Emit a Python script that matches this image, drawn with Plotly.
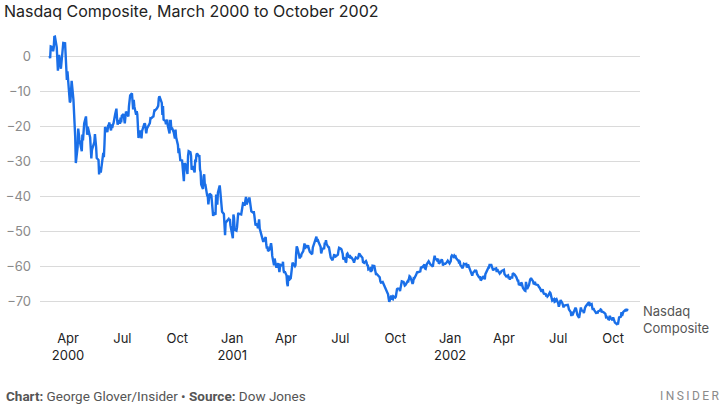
import plotly.graph_objects as go

# Percent change of the Nasdaq Composite since 1 March 2000
dates_2000 = [
    "2000-03-01", "2000-03-02", "2000-03-03", "2000-03-06", "2000-03-07", "2000-03-08", "2000-03-09", "2000-03-10",
    "2000-03-13", "2000-03-14", "2000-03-15", "2000-03-16", "2000-03-17", "2000-03-20", "2000-03-21", "2000-03-22",
    "2000-03-23", "2000-03-24", "2000-03-27", "2000-03-28", "2000-03-29", "2000-03-30", "2000-03-31", "2000-04-03",
    "2000-04-04", "2000-04-05", "2000-04-06", "2000-04-07", "2000-04-10", "2000-04-11", "2000-04-12", "2000-04-13",
    "2000-04-14", "2000-04-17", "2000-04-18", "2000-04-19", "2000-04-20", "2000-04-24", "2000-04-25", "2000-04-26",
    "2000-04-27", "2000-04-28", "2000-05-01", "2000-05-02", "2000-05-03", "2000-05-04", "2000-05-08", "2000-05-09",
    "2000-05-10", "2000-05-11", "2000-05-12", "2000-05-15", "2000-05-16", "2000-05-17", "2000-05-18", "2000-05-19",
    "2000-05-22", "2000-05-23", "2000-05-24", "2000-05-25", "2000-05-26", "2000-05-30", "2000-05-31", "2000-06-01",
    "2000-06-02", "2000-06-05", "2000-06-06", "2000-06-07", "2000-06-08", "2000-06-09", "2000-06-12", "2000-06-13",
    "2000-06-14", "2000-06-15", "2000-06-16", "2000-06-19", "2000-06-20", "2000-06-21", "2000-06-22", "2000-06-23",
    "2000-06-26", "2000-06-27", "2000-06-28", "2000-06-29", "2000-06-30", "2000-07-03", "2000-07-05", "2000-07-06",
    "2000-07-07", "2000-07-10", "2000-07-11", "2000-07-12", "2000-07-13", "2000-07-14", "2000-07-17", "2000-07-18",
    "2000-07-19", "2000-07-20", "2000-07-21", "2000-07-24", "2000-07-25", "2000-07-26", "2000-07-27", "2000-07-28",
    "2000-07-31", "2000-08-01", "2000-08-02", "2000-08-03", "2000-08-04", "2000-08-07", "2000-08-08", "2000-08-09",
    "2000-08-10", "2000-08-11", "2000-08-14", "2000-08-15", "2000-08-16", "2000-08-17", "2000-08-18", "2000-08-21",
    "2000-08-22", "2000-08-23", "2000-08-24", "2000-08-25", "2000-08-28", "2000-08-29", "2000-08-30", "2000-08-31",
    "2000-09-01", "2000-09-05", "2000-09-06", "2000-09-07", "2000-09-08", "2000-09-11", "2000-09-12", "2000-09-13",
    "2000-09-14", "2000-09-15", "2000-09-18", "2000-09-19", "2000-09-20", "2000-09-21", "2000-09-22", "2000-09-25",
    "2000-09-26", "2000-09-27", "2000-09-28", "2000-09-29", "2000-10-02", "2000-10-03", "2000-10-04", "2000-10-05",
    "2000-10-06", "2000-10-09", "2000-10-10", "2000-10-11", "2000-10-12", "2000-10-13", "2000-10-16", "2000-10-17",
    "2000-10-18", "2000-10-19", "2000-10-20", "2000-10-23", "2000-10-24", "2000-10-25", "2000-10-26", "2000-10-27",
    "2000-10-30", "2000-10-31", "2000-11-01", "2000-11-02", "2000-11-03", "2000-11-06", "2000-11-07", "2000-11-08",
    "2000-11-09", "2000-11-10", "2000-11-13", "2000-11-14", "2000-11-15", "2000-11-16", "2000-11-17", "2000-11-20",
    "2000-11-21", "2000-11-22", "2000-11-24", "2000-11-27", "2000-11-28", "2000-11-29", "2000-11-30", "2000-12-01",
    "2000-12-04", "2000-12-05", "2000-12-06", "2000-12-07", "2000-12-08", "2000-12-11", "2000-12-12", "2000-12-13",
    "2000-12-14", "2000-12-15", "2000-12-18", "2000-12-19", "2000-12-20", "2000-12-21", "2000-12-22", "2000-12-26",
    "2000-12-27", "2000-12-28", "2000-12-29",
]
pct_2000 = [
    0.00, -0.63, 2.72, 2.51, 1.32, 2.38, 5.48, 5.54,
    2.57, -1.61, -4.22, -1.40, 0.29, -3.64, -1.53, 1.67,
    3.26, 3.74, 3.64, 1.02, -2.93, -6.84, -4.41, -11.73,
    -13.29, -12.86, -10.81, -7.07, -12.46, -15.74, -21.22, -23.16,
    -30.58, -26.02, -20.72, -22.53, -23.85, -27.22, -22.43, -24.12,
    -21.11, -19.29, -17.27, -20.88, -22.51, -20.21, -23.29, -26.23,
    -29.24, -26.86, -26.23, -24.58, -22.30, -23.83, -26.05, -29.14,
    -29.68, -33.86, -31.65, -33.01, -33.01, -27.70, -28.91, -25.13,
    -20.30, -21.49, -21.47, -20.03, -20.05, -19.00, -21.26, -19.50,
    -20.61, -19.63, -19.32, -16.60, -16.10, -15.05, -17.73, -19.63,
    -18.23, -19.36, -17.64, -18.96, -17.10, -16.58, -19.25, -17.23,
    -15.89, -16.79, -17.29, -14.30, -12.73, -11.25, -10.64, -12.67,
    -15.24, -12.54, -14.40, -16.79, -15.76, -16.66, -19.69, -23.43,
    -21.26, -23.52, -23.52, -21.43, -20.82, -19.25, -19.46, -21.26,
    -22.09, -20.80, -19.50, -19.52, -19.17, -17.81, -17.85, -17.37,
    -17.27, -16.16, -15.28, -15.51, -14.93, -14.67, -14.24, -12.08,
    -11.50, -13.40, -16.83, -14.32, -18.19, -18.56, -19.52, -18.62,
    -18.19, -19.84, -22.12, -18.54, -18.54, -21.03, -20.51, -21.80,
    -22.89, -23.56, -21.03, -23.22, -25.42, -27.76, -26.36, -27.40,
    -29.74, -29.85, -32.25, -33.78, -35.74, -30.67, -31.23, -32.82,
    -33.70, -28.53, -27.20, -27.49, -28.53, -32.51, -31.61, -31.48,
    -33.30, -29.56, -30.31, -28.30, -27.86, -28.58, -28.60, -32.44,
    -33.09, -36.71, -37.98, -34.39, -33.82, -36.62, -36.71, -39.88,
    -39.99, -42.41, -39.30, -39.80, -42.85, -43.44, -45.69, -44.71,
    -45.32, -39.59, -41.53, -42.47, -39.03, -36.98, -38.71, -40.99,
    -42.96, -44.54, -45.15, -47.51, -51.23, -47.37, -47.39, -46.55,
    -46.93, -46.53, -48.35,
]

dates_2001 = [
    "2001-01-02", "2001-01-03", "2001-01-04", "2001-01-05", "2001-01-08", "2001-01-09", "2001-01-10", "2001-01-11",
    "2001-01-12", "2001-01-16", "2001-01-17", "2001-01-18", "2001-01-19", "2001-01-22", "2001-01-23", "2001-01-24",
    "2001-01-25", "2001-01-26", "2001-01-29", "2001-01-30", "2001-01-31", "2001-02-01", "2001-02-02", "2001-02-05",
    "2001-02-06", "2001-02-07", "2001-02-08", "2001-02-09", "2001-02-12", "2001-02-13", "2001-02-14", "2001-02-15",
    "2001-02-16", "2001-02-20", "2001-02-21", "2001-02-22", "2001-02-23", "2001-02-26", "2001-02-27", "2001-02-28",
    "2001-03-01", "2001-03-02", "2001-03-05", "2001-03-06", "2001-03-07", "2001-03-08", "2001-03-09", "2001-03-12",
    "2001-03-13", "2001-03-14", "2001-03-15", "2001-03-16", "2001-03-19", "2001-03-20", "2001-03-21", "2001-03-22",
    "2001-03-23", "2001-03-26", "2001-03-27", "2001-03-28", "2001-03-29", "2001-03-30", "2001-04-02", "2001-04-03",
    "2001-04-04", "2001-04-05", "2001-04-06", "2001-04-09", "2001-04-10", "2001-04-11", "2001-04-12", "2001-04-16",
    "2001-04-17", "2001-04-18", "2001-04-19", "2001-04-20", "2001-04-23", "2001-04-24", "2001-04-25", "2001-04-26",
    "2001-04-27", "2001-04-30", "2001-05-01", "2001-05-02", "2001-05-03", "2001-05-04", "2001-05-07", "2001-05-08",
    "2001-05-09", "2001-05-10", "2001-05-11", "2001-05-14", "2001-05-15", "2001-05-16", "2001-05-17", "2001-05-18",
    "2001-05-21", "2001-05-22", "2001-05-23", "2001-05-24", "2001-05-25", "2001-05-29", "2001-05-30", "2001-05-31",
    "2001-06-01", "2001-06-04", "2001-06-05", "2001-06-06", "2001-06-07", "2001-06-08", "2001-06-11", "2001-06-12",
    "2001-06-13", "2001-06-14", "2001-06-15", "2001-06-18", "2001-06-19", "2001-06-20", "2001-06-21", "2001-06-22",
    "2001-06-25", "2001-06-26", "2001-06-27", "2001-06-28", "2001-06-29", "2001-07-02", "2001-07-03", "2001-07-05",
    "2001-07-06", "2001-07-09", "2001-07-10", "2001-07-11", "2001-07-12", "2001-07-13", "2001-07-16", "2001-07-17",
    "2001-07-18", "2001-07-19", "2001-07-20", "2001-07-23", "2001-07-24", "2001-07-25", "2001-07-26", "2001-07-27",
    "2001-07-30", "2001-07-31", "2001-08-01", "2001-08-02", "2001-08-03", "2001-08-06", "2001-08-07", "2001-08-08",
    "2001-08-09", "2001-08-10", "2001-08-13", "2001-08-14", "2001-08-15", "2001-08-16", "2001-08-17", "2001-08-20",
    "2001-08-21", "2001-08-22", "2001-08-23", "2001-08-24", "2001-08-27", "2001-08-28", "2001-08-29", "2001-08-30",
    "2001-08-31", "2001-09-04", "2001-09-05", "2001-09-06", "2001-09-07", "2001-09-10", "2001-09-17", "2001-09-18",
    "2001-09-19", "2001-09-20", "2001-09-21", "2001-09-24", "2001-09-25", "2001-09-26", "2001-09-27", "2001-09-28",
    "2001-10-01", "2001-10-02", "2001-10-03", "2001-10-04", "2001-10-05", "2001-10-08", "2001-10-09", "2001-10-10",
    "2001-10-11", "2001-10-12", "2001-10-15", "2001-10-16", "2001-10-17", "2001-10-18", "2001-10-19", "2001-10-22",
    "2001-10-23", "2001-10-24", "2001-10-25", "2001-10-26", "2001-10-29", "2001-10-30", "2001-10-31", "2001-11-01",
    "2001-11-02", "2001-11-05", "2001-11-06", "2001-11-07", "2001-11-08", "2001-11-09", "2001-11-12", "2001-11-13",
    "2001-11-14", "2001-11-15", "2001-11-16", "2001-11-19", "2001-11-20", "2001-11-21", "2001-11-23", "2001-11-26",
    "2001-11-27", "2001-11-28", "2001-11-29", "2001-11-30", "2001-12-03", "2001-12-04", "2001-12-05", "2001-12-06",
    "2001-12-07", "2001-12-10", "2001-12-11", "2001-12-12", "2001-12-13", "2001-12-14", "2001-12-17", "2001-12-18",
    "2001-12-19", "2001-12-20", "2001-12-21", "2001-12-24", "2001-12-26", "2001-12-27", "2001-12-28", "2001-12-31",
]
pct_2001 = [
    -52.09, -45.30, -46.34, -49.67, -49.92, -48.98, -47.24, -44.82,
    -45.09, -45.26, -43.94, -42.14, -42.10, -42.37, -40.64, -40.24,
    -42.41, -41.87, -40.68, -40.68, -42.04, -41.85, -44.38, -44.75,
    -44.32, -45.51, -46.45, -48.37, -47.97, -49.25, -47.93, -46.66,
    -49.31, -51.53, -52.59, -53.09, -52.72, -51.76, -53.87, -55.02,
    -54.37, -55.73, -55.21, -53.91, -53.51, -54.68, -57.11, -59.78,
    -57.88, -58.76, -59.45, -60.47, -59.22, -60.35, -61.73, -60.35,
    -59.70, -59.89, -58.78, -61.25, -61.96, -61.54, -62.73, -65.03,
    -65.76, -62.67, -64.05, -63.50, -61.27, -60.33, -59.01, -60.08,
    -59.78, -56.52, -54.39, -54.79, -56.96, -57.84, -56.94, -57.48,
    -56.63, -55.77, -54.66, -53.57, -55.14, -54.18, -54.56, -54.06,
    -54.91, -55.52, -55.96, -56.50, -56.42, -54.70, -54.16, -54.04,
    -51.80, -51.63, -53.09, -52.30, -52.93, -54.54, -56.42, -55.90,
    -55.06, -54.95, -53.32, -53.66, -52.65, -53.70, -54.64, -54.66,
    -55.62, -57.27, -57.61, -58.36, -57.55, -56.96, -56.63, -57.48,
    -57.15, -56.86, -56.73, -55.58, -54.83, -55.10, -55.25, -56.50,
    -58.11, -57.63, -58.97, -58.78, -56.63, -56.42, -57.57, -56.81,
    -57.84, -57.48, -57.59, -58.44, -59.03, -58.34, -57.73, -57.57,
    -57.84, -57.63, -56.77, -56.38, -56.81, -57.48, -57.61, -58.90,
    -58.97, -59.11, -58.57, -58.95, -59.89, -59.64, -60.97, -60.68,
    -61.73, -61.12, -61.48, -59.93, -60.03, -61.04, -61.48, -62.56,
    -62.27, -63.00, -63.23, -64.34, -64.72, -64.57, -66.97, -67.50,
    -68.08, -69.27, -70.26, -68.65, -68.63, -69.40, -69.48, -68.67,
    -69.04, -68.79, -66.85, -66.62, -66.45, -66.45, -67.18, -66.01,
    -64.44, -64.40, -64.55, -65.59, -65.59, -65.47, -65.07, -64.30,
    -64.36, -63.82, -62.90, -63.04, -64.47, -65.13, -64.67, -63.48,
    -63.52, -62.52, -61.64, -61.60, -61.81, -61.79, -61.54, -60.45,
    -60.22, -60.28, -60.33, -59.55, -60.70, -60.81, -59.43, -58.65,
    -58.93, -59.55, -59.59, -59.64, -60.20, -58.97, -57.21, -57.07,
    -57.76, -58.36, -58.15, -57.96, -59.32, -59.18, -58.44, -58.11,
    -58.55, -59.89, -59.32, -59.37, -59.03, -58.70, -58.47, -59.24,
]

dates_2002 = [
    "2002-01-02", "2002-01-03", "2002-01-04", "2002-01-07", "2002-01-08", "2002-01-09", "2002-01-10", "2002-01-11",
    "2002-01-14", "2002-01-15", "2002-01-16", "2002-01-17", "2002-01-18", "2002-01-22", "2002-01-23", "2002-01-24",
    "2002-01-25", "2002-01-28", "2002-01-29", "2002-01-30", "2002-01-31", "2002-02-01", "2002-02-04", "2002-02-05",
    "2002-02-06", "2002-02-07", "2002-02-08", "2002-02-11", "2002-02-12", "2002-02-13", "2002-02-14", "2002-02-15",
    "2002-02-19", "2002-02-20", "2002-02-21", "2002-02-22", "2002-02-25", "2002-02-26", "2002-02-27", "2002-02-28",
    "2002-03-01", "2002-03-04", "2002-03-05", "2002-03-06", "2002-03-07", "2002-03-08", "2002-03-11", "2002-03-12",
    "2002-03-13", "2002-03-14", "2002-03-15", "2002-03-18", "2002-03-19", "2002-03-20", "2002-03-21", "2002-03-22",
    "2002-03-25", "2002-03-26", "2002-03-27", "2002-03-28", "2002-04-01", "2002-04-02", "2002-04-03", "2002-04-04",
    "2002-04-05", "2002-04-08", "2002-04-09", "2002-04-10", "2002-04-11", "2002-04-12", "2002-04-15", "2002-04-16",
    "2002-04-17", "2002-04-18", "2002-04-19", "2002-04-22", "2002-04-23", "2002-04-24", "2002-04-25", "2002-04-26",
    "2002-04-29", "2002-04-30", "2002-05-01", "2002-05-02", "2002-05-03", "2002-05-06", "2002-05-07", "2002-05-08",
    "2002-05-09", "2002-05-10", "2002-05-13", "2002-05-14", "2002-05-15", "2002-05-16", "2002-05-17", "2002-05-20",
    "2002-05-21", "2002-05-22", "2002-05-23", "2002-05-24", "2002-05-28", "2002-05-29", "2002-05-30", "2002-05-31",
    "2002-06-03", "2002-06-04", "2002-06-05", "2002-06-06", "2002-06-07", "2002-06-10", "2002-06-11", "2002-06-12",
    "2002-06-13", "2002-06-14", "2002-06-17", "2002-06-18", "2002-06-19", "2002-06-20", "2002-06-21", "2002-06-24",
    "2002-06-25", "2002-06-26", "2002-06-27", "2002-06-28", "2002-07-01", "2002-07-02", "2002-07-03", "2002-07-05",
    "2002-07-08", "2002-07-09", "2002-07-10", "2002-07-11", "2002-07-12", "2002-07-15", "2002-07-16", "2002-07-17",
    "2002-07-18", "2002-07-19", "2002-07-22", "2002-07-23", "2002-07-24", "2002-07-25", "2002-07-26", "2002-07-29",
    "2002-07-30", "2002-07-31", "2002-08-01", "2002-08-02", "2002-08-05", "2002-08-06", "2002-08-07", "2002-08-08",
    "2002-08-09", "2002-08-12", "2002-08-13", "2002-08-14", "2002-08-15", "2002-08-16", "2002-08-19", "2002-08-20",
    "2002-08-21", "2002-08-22", "2002-08-23", "2002-08-26", "2002-08-27", "2002-08-28", "2002-08-29", "2002-08-30",
    "2002-09-03", "2002-09-04", "2002-09-05", "2002-09-06", "2002-09-09", "2002-09-10", "2002-09-11", "2002-09-12",
    "2002-09-13", "2002-09-16", "2002-09-17", "2002-09-18", "2002-09-19", "2002-09-20", "2002-09-23", "2002-09-24",
    "2002-09-25", "2002-09-26", "2002-09-27", "2002-09-30", "2002-10-01", "2002-10-02", "2002-10-03", "2002-10-04",
    "2002-10-07", "2002-10-08", "2002-10-09", "2002-10-10", "2002-10-11", "2002-10-14", "2002-10-15", "2002-10-16",
    "2002-10-17", "2002-10-18", "2002-10-21", "2002-10-22", "2002-10-23", "2002-10-24", "2002-10-25",
]
pct_2002 = [
    -58.61, -57.25, -56.96, -57.42, -57.04, -57.25, -57.21, -57.74,
    -58.40, -58.19, -59.34, -58.51, -59.66, -60.66, -59.80, -59.39,
    -59.49, -59.39, -60.43, -60.01, -59.57, -60.05, -61.23, -61.54,
    -62.10, -62.75, -62.00, -61.39, -61.64, -61.14, -61.48, -62.27,
    -63.42, -62.90, -64.11, -63.96, -63.09, -63.06, -63.40, -63.82,
    -62.33, -61.14, -60.99, -60.47, -60.68, -59.68, -59.68, -60.35,
    -61.08, -61.23, -60.95, -60.77, -60.70, -61.71, -60.95, -61.31,
    -62.12, -61.85, -61.83, -61.43, -61.08, -62.29, -62.69, -62.58,
    -63.00, -62.69, -63.59, -63.06, -63.92, -63.29, -63.29, -62.02,
    -62.17, -62.33, -62.46, -63.21, -63.84, -64.19, -64.19, -65.22,
    -65.39, -64.72, -64.95, -65.64, -66.28, -67.02, -67.10, -64.53,
    -65.43, -66.56, -65.47, -64.07, -63.84, -63.61, -63.61, -64.42,
    -65.20, -65.03, -64.53, -65.26, -65.45, -66.03, -66.05, -66.22,
    -67.33, -67.02, -66.66, -67.52, -67.91, -68.02, -68.71, -68.25,
    -68.71, -68.54, -67.54, -67.75, -68.71, -69.38, -69.88, -69.48,
    -70.23, -70.13, -69.50, -69.42, -70.65, -71.63, -71.15, -69.73,
    -70.63, -71.11, -71.86, -71.28, -71.28, -71.09, -71.26, -71.11,
    -71.63, -72.41, -73.18, -74.31, -73.04, -74.08, -73.62, -72.09,
    -71.91, -72.24, -73.22, -73.93, -74.79, -73.24, -72.70, -71.86,
    -72.70, -72.83, -73.45, -72.12, -71.89, -71.55, -70.86, -71.22,
    -70.55, -70.28, -71.15, -70.90, -71.84, -72.53, -72.09, -72.51,
    -73.60, -72.99, -73.58, -72.93, -72.72, -72.41, -72.51, -73.27,
    -73.01, -73.35, -73.66, -73.68, -74.58, -74.46, -75.23, -75.29,
    -74.46, -74.46, -74.94, -75.50, -74.65, -75.17, -75.65, -76.19,
    -76.61, -76.40, -76.71, -75.69, -74.71, -74.50, -73.20, -74.23,
    -73.41, -73.10, -72.64, -72.99, -72.41, -72.87, -72.18,
]

tick_dates = ["2000-04-01", "2000-07-01", "2000-10-01", "2001-01-01", "2001-04-01", "2001-07-01",
              "2001-10-01", "2002-01-01", "2002-04-01", "2002-07-01", "2002-10-01"]
tick_labels = ["Apr<br>2000", "Jul", "Oct", "Jan<br>2001", "Apr", "Jul",
               "Oct", "Jan<br>2002", "Apr", "Jul", "Oct"]
y_ticks = [0, -10, -20, -30, -40, -50, -60, -70]

dates = dates_2000 + dates_2001 + dates_2002
pct = pct_2000 + pct_2001 + pct_2002

FONT = "Inter"

fig = go.Figure()
fig.add_trace(go.Scatter(
    x=dates, y=pct, mode="lines",
    line=dict(color="#1a6fe8", width=2.4),
    hoverinfo="skip", showlegend=False,
))

fig.update_layout(
    width=726, height=408,
    margin=dict(l=40, r=86, t=35, b=79, autoexpand=False),
    plot_bgcolor="white", paper_bgcolor="white",
    font=dict(family=FONT, size=13, color="#222"),
    showlegend=False,
    title=dict(
        text="Nasdaq Composite, March 2000 to October 2002",
        x=4 / 726, xref="container", xanchor="left",
        y=1 - 11 / 408, yref="container", yanchor="middle",
        font=dict(family=FONT, size=16, color="#222"),
    ),
    xaxis=dict(
        type="date",
        range=["2000-02-14", "2002-11-15"],
        tickvals=tick_dates, ticktext=tick_labels,
        showgrid=False, zeroline=False, showline=False, ticks="",
        tickfont=dict(family=FONT, size=13, color="#222"),
    ),
    yaxis=dict(
        range=[-78, 6],
        tickvals=y_ticks,
        showgrid=True, gridcolor="#dadada", gridwidth=1,
        zeroline=False, showline=False, ticks="",
        ticklabelstandoff=8,
        tickfont=dict(family=FONT, size=13, color="#8a8a8a"),
    ),
)

fig.add_annotation(
    x=1, xref="paper", xshift=1, xanchor="left",
    y=-75.3, yref="y", yanchor="middle",
    text="Nasdaq<br>Composite", showarrow=False, align="left",
    font=dict(family=FONT, size=13, color="#555"),
)
fig.add_annotation(
    x=(4 - 40) / 600, xref="paper", xanchor="left",
    y=(329 - 396) / 294, yref="paper", yanchor="middle",
    text="<b>Chart:</b> George Glover/Insider • <b>Source:</b> Dow Jones",
    showarrow=False, align="left",
    font=dict(family="Roboto", size=13.5, color="#555"),
)
fig.add_annotation(
    x=(722 - 40) / 600, xref="paper", xanchor="right",
    y=(329 - 396) / 294, yref="paper", yanchor="middle",
    text="I\u2009N\u2009S\u2009I\u2009D\u2009E\u2009R",
    showarrow=False,
    font=dict(family="Roboto", size=12, color="#8a8a8a"),
)

fig.write_html(
    "out.html",
    config={"displayModeBar": False, "staticPlot": True},
    post_script="document.body.style.margin='0';",
)
